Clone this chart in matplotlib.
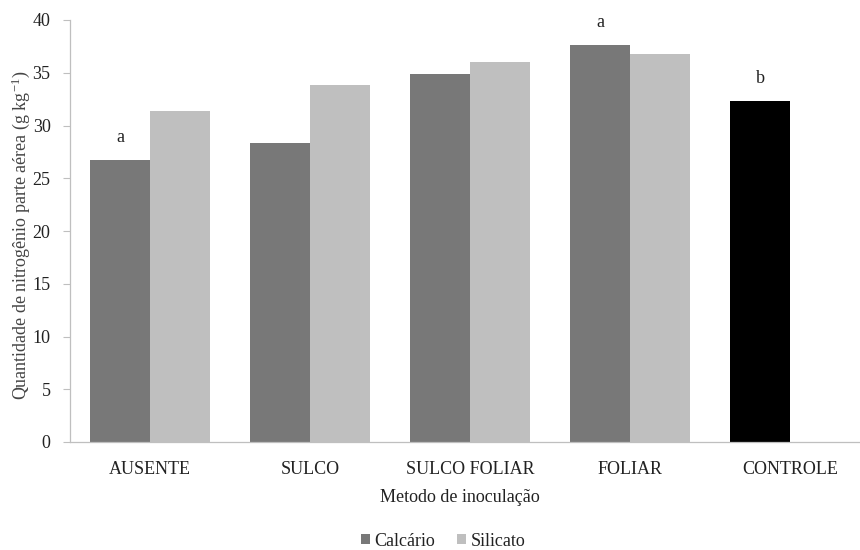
import numpy as np
import matplotlib
matplotlib.use("Agg")
import matplotlib.pyplot as plt

# dados
categorias = ["AUSENTE", "SULCO", "SULCO FOLIAR", "FOLIAR", "CONTROLE"]
calcario = [26.7, 28.3, 34.9, 37.6, np.nan]
silicato = [31.4, 33.8, 36.0, 36.8, np.nan]
controle = [np.nan, np.nan, np.nan, np.nan, 32.3]
letras = ["a", "", "", "a", "b"]

plt.rcParams['font.family'] = ['Liberation Serif', 'DejaVu Serif']
plt.rcParams['mathtext.fontset'] = 'stix'

def main():
    fig = plt.figure(figsize=(8.6, 5.5), dpi=100)
    ax = fig.add_axes([70/860, 108/550, 800/860, 422/550])

    x = np.arange(len(categorias))
    w = 0.375
    ax.bar(x - w/2, calcario, w, color="#787878", label="Calcário")
    ax.bar(x + w/2, silicato, w, color="#bfbfbf", label="Silicato")
    ax.bar(x - w/2, controle, w, color="black")

    # letras de significancia sobre as barras
    topo = [c if not np.isnan(c) else k for c, k in zip(calcario, controle)]
    for i, (t, l) in enumerate(zip(topo, letras)):
        if l:
            ax.annotate(l, (x[i] - w/2, t), xytext=(0, 10), textcoords="offset points",
                        ha="center", va="bottom", fontsize=13, color="#222222")

    ax.set_xlim(-0.5, len(categorias) - 0.5)
    ax.set_ylim(0, 40)
    ax.set_yticks(np.arange(0, 41, 5))
    ax.set_xticks(x)
    ax.set_xticklabels(categorias)
    ax.tick_params(axis="x", length=0, pad=14, labelsize=13, labelcolor="#222222")
    ax.tick_params(axis="y", length=5, width=0.8, color="#bfbfbf", pad=9,
                   labelsize=13, labelcolor="#222222")

    for s in ["top", "right"]:
        ax.spines[s].set_visible(False)
    for s in ["left", "bottom"]:
        ax.spines[s].set_color("#bfbfbf")
        ax.spines[s].set_linewidth(0.9)

    ax.set_ylabel("Quantidade de nitrogênio parte aérea (g kg$^{\\mathregular{-1}}$)",
                  fontsize=13, color="#444444")
    ax.yaxis.set_label_coords(-0.048, 0.49)
    fig.text(460/860, 1 - 497/550, "Metodo de inoculação", ha="center", va="center",
             fontsize=13, color="#222222")

    leg = fig.legend(handles=ax.containers[:2], labels=["Calcário", "Silicato"],
                     loc="center", bbox_to_anchor=(443/860, 1 - 541/550), ncol=2,
                     frameon=False, fontsize=13,
                     handlelength=0.5, handleheight=0.5, handletextpad=0.25,
                     columnspacing=1.2)
    for t in leg.get_texts():
        t.set_fontfamily('Liberation Serif')
        t.set_color("#222222")

    plt.savefig("out.png", dpi=100)

if __name__ == '__main__':
    main()
